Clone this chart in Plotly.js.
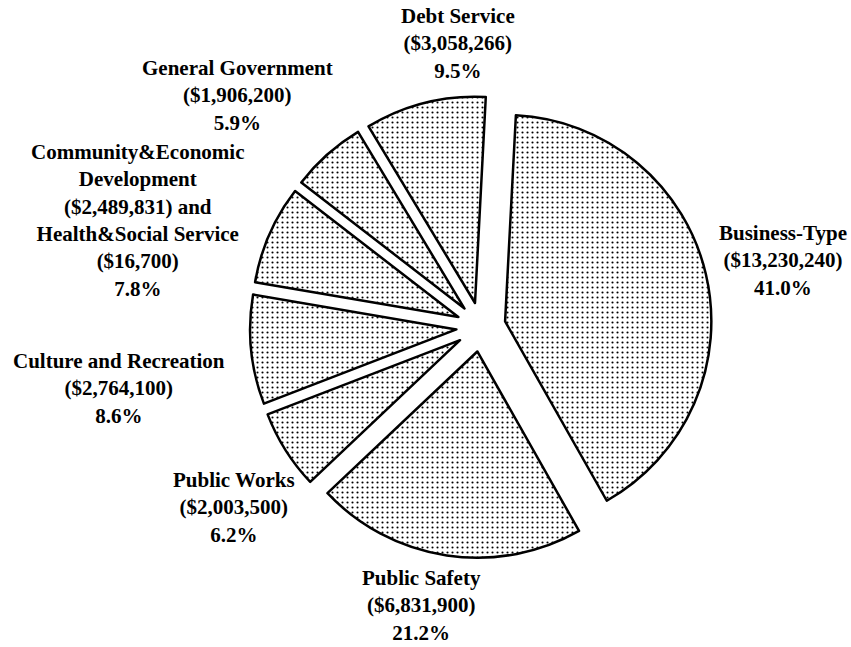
<!DOCTYPE html>
<html>
<head>
<meta charset="utf-8">
<script src="https://cdn.plot.ly/plotly-3.0.1.min.js"></script>
<style>html,body{margin:0;padding:0;background:#fff;}#chart{width:851px;height:647px;}</style>
</head>
<body>
<div id="chart"></div>
<script>
// ---- data ----
const categories = ['Business-Type', 'Public Safety', 'Public Works', 'Culture and Recreation',
  'Community&Economic Development and Health&Social Service', 'General Government', 'Debt Service'];
const communityDevValue = 2489831;
const healthSocialValue = 16700;
const values = [13230240, 6831900, 2003500, 2764100, communityDevValue + healthSocialValue, 1906200, 3058266];
const pctLabels = ['41.0%', '21.2%', '6.2%', '8.6%', '7.8%', '5.9%', '9.5%'];

function fmt(v) { return '($' + v.toLocaleString('en-US') + ')'; }

const labelTexts = categories.map(function (c, i) {
  if (i === 4) {
    return 'Community&Economic<br>Development<br>' + fmt(communityDevValue) + ' and<br>Health&Social Service<br>' +
      fmt(healthSocialValue) + '<br>' + pctLabels[i];
  }
  return c + '<br>' + fmt(values[i]) + '<br>' + pctLabels[i];
});

// label anchor positions (pixels in the 851x647 frame)
const labelPos = [[783, 260], [421, 605], [234, 507], [119, 388], [138, 220], [237, 95], [458, 43]];

const W = 851, H = 647;
const trace = {
  type: 'pie',
  labels: categories,
  values: values,
  sort: false,
  direction: 'clockwise',
  rotation: 3,
  pull: categories.map(function () { return 0.12; }),
  textinfo: 'none',
  hoverinfo: 'skip',
  showlegend: false,
  domain: { x: [250 / W, 712 / W], y: [1 - 558 / H, 1 - 96 / H] },
  marker: {
    colors: categories.map(function () { return '#ffffff'; }),
    line: { color: '#000000', width: 2.5 },
    pattern: { shape: '.', fgcolor: '#000000', bgcolor: '#ffffff', size: 5, solidity: 0.14 }
  }
};

const annotations = labelTexts.map(function (t, i) {
  return {
    text: t, xref: 'paper', yref: 'paper',
    x: labelPos[i][0] / W, y: 1 - labelPos[i][1] / H,
    xanchor: 'center', yanchor: 'middle', align: 'center', showarrow: false,
    font: { family: '"Liberation Serif", "Times New Roman", serif', size: 21, color: '#000000', weight: 'bold' }
  };
});

const layout = {
  width: W, height: H,
  margin: { l: 0, r: 0, t: 0, b: 0 },
  paper_bgcolor: '#ffffff',
  showlegend: false,
  annotations: annotations
};

Plotly.newPlot('chart', [trace], layout, { displayModeBar: false, staticPlot: true });
</script>
</body>
</html>
